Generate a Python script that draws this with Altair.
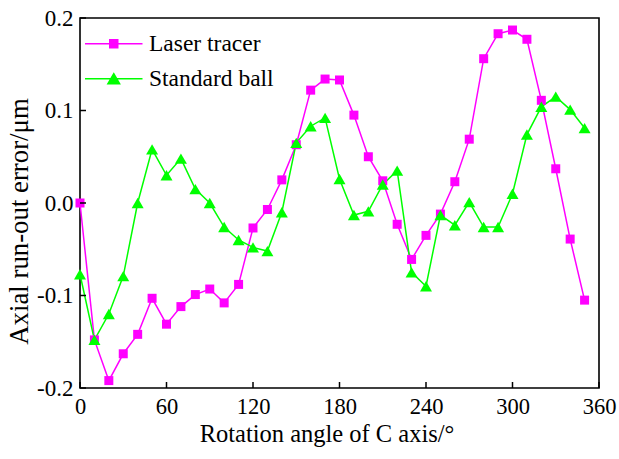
import altair as alt
import pandas as pd

angles = list(range(0, 360, 10))
laser = [0.000, -0.148, -0.192, -0.163, -0.142, -0.103, -0.131, -0.112, -0.099, -0.093,
         -0.108, -0.088, -0.027, -0.007, 0.025, 0.063, 0.122, 0.134, 0.133, 0.095,
         0.050, 0.024, -0.023, -0.061, -0.035, -0.012, 0.023, 0.069, 0.156, 0.183,
         0.187, 0.177, 0.111, 0.037, -0.039, -0.105]
ball = [-0.077, -0.148, -0.120, -0.079, 0.000, 0.058, 0.030, 0.048, 0.015, 0.000,
        -0.026, -0.040, -0.048, -0.052, -0.010, 0.065, 0.083, 0.092, 0.026, -0.013,
        -0.009, 0.020, 0.035, -0.075, -0.090, -0.013, -0.024, 0.001, -0.026, -0.026,
        0.010, 0.074, 0.104, 0.115, 0.101, 0.081]
series_names = ["Laser tracer", "Standard ball"]
series_colors = ["#ff00ff", "#00ff00"]
series_shapes = ["square", "triangle-up"]
series_sizes = [81, 144]
x_tick_values = [0, 60, 120, 180, 240, 300, 360]
y_tick_values = [-0.2, -0.1, 0.0, 0.1, 0.2]

legend_paths = [
    "M-5.75,0H5.75M-0.8,-0.8H0.8V0.8H-0.8Z",
    "M-5.75,0H5.75M0,-1.01L1.17,1.01L-1.17,1.01Z",
]

df = pd.DataFrame({
    "angle": angles * 2,
    "value": laser + ball,
    "series": [series_names[0]] * len(angles) + [series_names[1]] * len(angles),
})

FONT = "Liberation Serif"
W, H = 519, 370

x_enc = alt.X(
    "angle:Q",
    scale=alt.Scale(domain=[0, 360], nice=False, zero=False),
    axis=alt.Axis(
        values=x_tick_values, title="Rotation angle of C axis/°",
        labelFontSize=22.5, labelPadding=7, labelFlush=False, labelOverlap=False,
        titleFontSize=24.5, titleX=246.5, titleY=53.4, titleBaseline="alphabetic",
        titleAlign="center",
    ),
)
y_enc = alt.Y(
    "value:Q",
    scale=alt.Scale(domain=[-0.2, 0.2], nice=False, zero=False),
    axis=alt.Axis(
        values=y_tick_values, title="Axial run-out error/μm",
        labelExpr="replace(format(datum.value, '.1f'), '−', '-')",
        labelFontSize=23, labelPadding=7, labelFlush=False, labelOverlap=False,
        titleFontSize=26.8, titleX=-53, titleY=203, titleBaseline="alphabetic",
        titleAngle=270, titleAlign="center",
    ),
)

layers = []
for name, color in zip(series_names, series_colors):
    layers.append(
        alt.Chart(df).transform_filter(alt.datum.series == name)
        .mark_line(color=color, strokeWidth=1.5)
        .encode(x=x_enc, y=y_enc)
    )
for name, color, shape, size in zip(series_names, series_colors, series_shapes, series_sizes):
    layers.append(
        alt.Chart(df).transform_filter(alt.datum.series == name)
        .mark_point(filled=True, shape=shape, size=size, color=color, opacity=1)
        .encode(x=x_enc, y=y_enc)
    )

legend = alt.Legend(
    title=None, orient="none", legendX=22, legendY=14, symbolSize=100,
    labelOffset=23.5, rowPadding=10, padding=0, labelFont=FONT, labelFontSize=23.5,
    labelColor="black", symbolStrokeWidth=1.5, labelLimit=400,
)
legend_layer = (
    alt.Chart(df).transform_filter("datum.angle < 0")
    .mark_point(filled=True, opacity=1)
    .encode(
        x=x_enc, y=y_enc,
        fill=alt.Fill("series:N", scale=alt.Scale(domain=series_names, range=series_colors), legend=legend),
        stroke=alt.Stroke("series:N", scale=alt.Scale(domain=series_names, range=series_colors), legend=legend),
        shape=alt.Shape("series:N", scale=alt.Scale(domain=series_names, range=legend_paths), legend=legend),
    )
)
layers.append(legend_layer)

xt = pd.DataFrame({"angle": x_tick_values})
yt = pd.DataFrame({"value": y_tick_values})
layers.append(
    alt.Chart(xt).mark_rule(color="black", strokeWidth=1.5)
    .encode(x=x_enc, y=alt.value(H), y2=alt.value(H - 6))
)
layers.append(
    alt.Chart(yt).mark_rule(color="black", strokeWidth=1.5)
    .encode(y=y_enc, x=alt.value(0), x2=alt.value(6))
)

chart = (
    alt.layer(*layers)
    .properties(
        width=W, height=H,
        autosize=alt.AutoSizeParams(type="none"),
        padding={"left": 80, "top": 18, "right": 20, "bottom": 71},
        background="white",
    )
    .configure_view(stroke="black", strokeWidth=1.6)
    .configure_axis(
        domain=False, ticks=False, grid=False, labelFont=FONT, titleFont=FONT,
        labelColor="black", titleColor="black", titleFontWeight="normal",
    )
)

chart.save("out.html", embed_options={"renderer": "svg", "actions": False})
